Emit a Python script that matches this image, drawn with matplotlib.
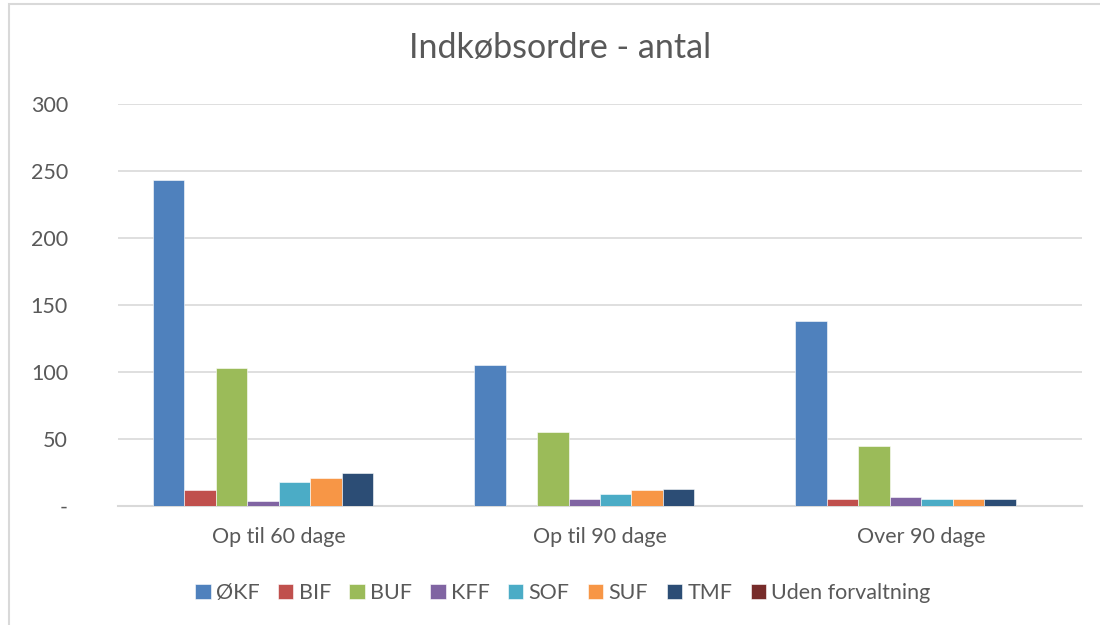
import numpy as np
import matplotlib
matplotlib.use("Agg")
import matplotlib.pyplot as plt
from matplotlib.patches import Rectangle
from matplotlib.ticker import FuncFormatter

# data
categories = ["Op til 60 dage", "Op til 90 dage", "Over 90 dage"]
series = ["ØKF", "BIF", "BUF", "KFF", "SOF", "SUF", "TMF", "Uden forvaltning"]
values = {
    "ØKF": [243, 105, 138],
    "BIF": [12, 0, 5],
    "BUF": [103, 55, 45],
    "KFF": [4, 5, 7],
    "SOF": [18, 9, 5],
    "SUF": [21, 12, 5],
    "TMF": [25, 13, 5],
    "Uden forvaltning": [0, 0, 0],
}
colors = ["#4F81BD", "#C0504D", "#9BBB59", "#8064A2",
          "#4BACC6", "#F79646", "#2C4D75", "#772C2A"]

plt.rcParams['font.family'] = ['Lato', 'DejaVu Sans']
txt = "#595959"

fig = plt.figure(figsize=(11, 6.25), dpi=100)
ax = fig.add_axes([0.1073, 0.1904, 0.8763, 0.6432])

# outer chart frame like the excel chart border
fig.patches.append(Rectangle((9 / 1100, -0.1), 1.2, 1 - 4 / 625 + 0.1,
                             transform=fig.transFigure, fill=False,
                             edgecolor="#D9D9D9", lw=1.5))

x = np.arange(len(categories))
w = 0.098
n = len(series)
for i, s in enumerate(series):
    ax.bar(x + (i - (n - 1) / 2) * w, values[s], w, color=colors[i],
           edgecolor="white", linewidth=0.4, label=s, zorder=3)

ax.set_xlim(-0.5, 2.5)
ax.set_ylim(0, 300)
ax.set_yticks(range(0, 301, 50))
ax.yaxis.set_major_formatter(FuncFormatter(lambda v, p: "-" if v == 0 else f"{int(v)}"))
ax.grid(axis="y", color="#D9D9D9", lw=1.2, zorder=0)
ax.set_xticks(x)
ax.set_xticklabels(categories)
for sp in ["top", "right", "left"]:
    ax.spines[sp].set_visible(False)
ax.spines["bottom"].set_color("#D9D9D9")
ax.spines["bottom"].set_linewidth(1.5)
ax.tick_params(axis="both", length=0, labelsize=15.5, colors=txt)
ax.tick_params(axis="y", pad=36)
for lab in ax.get_yticklabels():
    lab.set_horizontalalignment("right")
ax.tick_params(axis="x", pad=15)

fig.text(0.509, 0.923, "Indkøbsordre - antal", ha="center", va="center",
         fontsize=24.5, color=txt)

ax.legend(loc="center", bbox_to_anchor=(0.4616, -0.217), ncol=n, frameon=False,
          fontsize=15.5, labelcolor=txt, handlelength=0.7, handleheight=0.7,
          handletextpad=0.25, columnspacing=0.86)

fig.savefig("out.png", dpi=100, facecolor="white")
